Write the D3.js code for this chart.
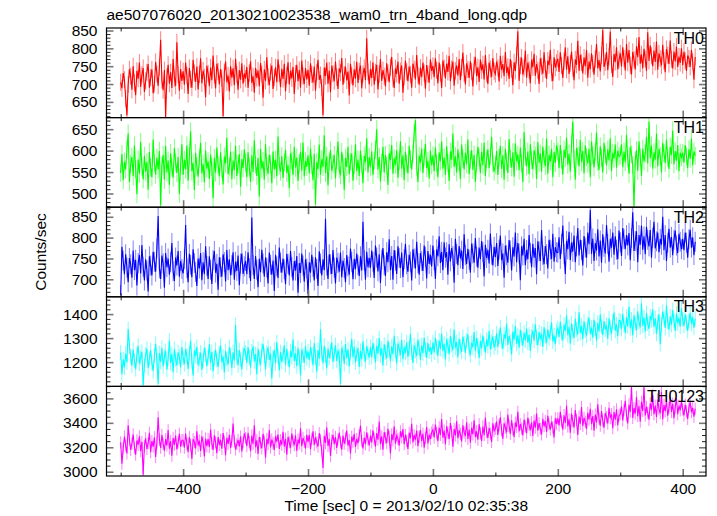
<!DOCTYPE html>
<html><head><meta charset="utf-8">
<script src="https://cdn.jsdelivr.net/npm/d3@7"></script>
<style>body{margin:0;background:#fff}</style>
</head><body>
<svg id="c" width="717" height="516"></svg>
<script>
// ---- data (2-s bins starting at t = -500 s) ----
const binStart = -500, binSize = 2;
const panelNames = ["TH0", "TH1", "TH2", "TH3", "TH0123"];
const panelColors = ["#ff0000", "#00ff00", "#0000ff", "#00ffff", "#ff00ff"];
const errHalf = [24, 21, 24, 31, 50];
const xMajorTicks = [-400, -200, 0, 200, 400];
const xMinorTicks = [-500, -300, -100, 100, 300];
const yDomains = [[606, 857], [468, 677], [658, 873], [1099, 1472], [2965, 3698]];
const yMajorTicks = [[650, 700, 750, 800, 850], [500, 550, 600, 650], [700, 750, 800, 850], [1200, 1300, 1400], [3000, 3200, 3400, 3600]];
const yMinorStep = [10, 10, 10, 20, 50];
const titleText = "ae507076020_20130210023538_wam0_trn_4band_long.qdp";
const xTitle = "Time [sec] 0 = 2013/02/10 02:35:38";
const yTitle = "Counts/sec";

const th0 = [
705,688,731,712,660,612,698,741,722,684,750,703,669,737,715,760,692,726,745,678,709,733,756,690,718,741,674,700,762,728,695,747,824,711,683,739,608,720,754,701,733,689,770,716,695,817,727,681,742,709,
736,698,760,724,672,745,713,690,768,731,706,749,685,727,772,702,738,719,663,751,729,694,746,711,780,725,688,757,735,699,742,716,610,733,763,705,724,679,750,718,744,697,771,726,684,739,712,758,701,730,
715,748,689,731,764,703,722,676,745,717,738,694,759,728,662,741,709,775,720,697,734,752,686,718,747,705,769,730,691,743,714,757,680,725,761,699,737,716,748,672,729,754,708,739,690,766,722,700,745,713,
740,695,758,727,704,749,681,733,768,712,725,690,613,746,722,760,700,738,677,751,729,708,763,719,686,744,732,773,698,726,749,710,735,668,757,724,696,741,715,762,703,736,752,688,728,745,711,828,734,699,
742,717,761,698,733,754,685,728,770,709,739,722,693,758,731,705,747,776,715,689,744,728,763,701,736,752,676,721,766,734,708,749,727,690,757,741,713,781,725,698,746,719,760,731,687,753,728,704,769,737,
751,719,772,738,702,760,731,689,766,745,716,757,734,779,708,742,763,695,737,752,724,770,711,746,788,730,699,758,741,717,764,735,693,753,776,722,747,706,769,738,755,713,781,729,700,760,742,720,773,736,
728,763,745,707,779,740,756,722,790,731,748,715,770,742,697,761,737,781,848,709,752,774,726,745,794,718,760,739,702,768,747,785,723,756,738,700,772,750,729,789,741,714,766,753,796,732,708,775,746,760,
771,734,789,752,717,764,803,740,778,728,758,791,745,711,769,754,821,737,782,760,730,774,750,795,718,763,742,786,757,726,770,812,744,767,735,779,852,748,761,790,739,776,847,755,720,784,762,803,741,768,
786,749,803,771,738,812,760,795,752,727,790,768,741,806,775,832,757,783,744,799,770,737,845,765,808,779,750,794,762,819,740,786,771,752,810,765,733,798,781,756,822,769,744,791,763,805,748,777,759,800,
753,790,765,737,780,771,748,795,762,712,776];
const th1 = [
548,592,531,574,556,603,640,527,569,585,540,612,557,498,579,546,620,563,533,588,551,574,509,597,560,538,626,571,544,583,556,599,472,565,590,532,611,549,577,520,594,561,537,606,572,548,585,499,567,615,
543,579,556,612,530,587,645,552,571,508,595,563,539,581,618,547,569,526,600,558,575,534,591,562,489,583,549,607,566,540,596,557,521,586,570,630,545,562,598,533,577,554,611,541,568,592,516,580,559,603,
572,538,596,561,527,589,550,624,567,541,583,493,604,558,575,532,615,562,546,590,569,524,598,556,579,540,633,565,551,587,536,573,602,548,566,512,594,577,543,609,560,584,529,571,597,553,619,540,576,562,
589,547,605,566,531,592,474,573,557,614,544,580,562,636,548,587,519,575,601,553,568,590,535,578,621,556,542,597,571,508,583,562,609,545,574,593,530,566,615,552,579,541,600,568,524,588,573,629,549,585,
561,598,543,577,602,650,556,585,528,571,609,549,590,565,520,594,578,613,546,582,567,601,537,575,622,558,589,531,597,570,547,611,580,556,593,641,671,563,527,588,572,605,548,584,616,559,576,535,600,566,
589,552,607,570,538,596,575,621,558,584,543,610,571,529,598,579,640,562,587,549,603,574,533,614,581,556,595,568,626,545,578,601,555,590,527,572,609,584,548,597,566,618,541,580,603,559,588,632,570,551,
566,599,543,583,611,557,589,532,604,574,548,627,581,561,596,539,617,575,591,554,607,570,527,643,586,563,598,545,615,578,556,601,588,534,620,572,593,551,609,580,564,628,546,590,575,604,538,597,571,612,
598,559,613,579,544,602,583,630,567,593,551,616,668,580,532,606,588,563,625,573,599,547,612,585,570,604,538,621,589,561,596,642,574,555,610,583,549,618,591,566,603,577,629,552,595,581,614,560,600,586,
589,615,561,598,573,637,582,546,609,591,566,470,577,601,553,622,585,541,604,575,593,632,570,668,582,612,558,596,579,640,563,604,587,549,618,594,571,626,583,557,609,590,647,568,599,576,613,552,595,584,
595,572,613,587,559,603,581,628,566,598,588];
const th2 = [
662,778,745,712,760,728,693,751,736,704,769,722,747,685,739,758,714,782,730,697,748,721,671,755,733,709,766,742,718,774,852,726,701,757,738,680,763,729,750,711,741,787,719,696,752,733,768,706,744,725,
714,748,830,727,693,761,735,705,772,739,718,684,750,726,763,698,741,712,779,732,701,755,723,689,746,768,716,737,675,753,729,706,760,741,695,770,722,748,710,734,765,699,742,720,757,686,738,762,713,731,
744,712,765,727,696,848,734,701,756,723,681,749,717,771,738,706,752,728,690,764,735,711,745,672,759,731,703,776,740,716,750,724,688,761,737,709,768,729,697,744,721,756,668,739,715,762,733,694,748,726,
665,741,716,759,730,697,753,725,684,767,738,709,748,722,845,733,701,760,736,713,770,728,690,752,739,718,764,705,745,727,693,758,731,711,774,742,700,749,724,762,734,708,755,721,838,745,699,766,729,751,
728,769,742,703,781,752,719,760,691,747,775,734,708,765,741,796,722,756,699,770,745,713,779,751,727,764,705,748,785,736,718,759,742,697,772,750,726,790,739,711,763,744,720,781,754,702,768,737,759,731,
781,746,701,772,755,803,739,766,722,789,752,765,711,784,743,775,756,692,797,761,734,780,750,769,725,808,758,737,773,747,716,786,762,740,799,754,728,776,748,792,765,707,783,751,771,738,810,759,733,778,
753,787,732,771,805,746,762,704,781,758,740,794,769,721,777,755,812,741,787,762,698,779,757,797,734,770,748,806,763,729,785,752,775,712,791,767,744,818,758,736,780,760,726,795,771,749,809,742,777,765,
764,801,749,785,829,760,713,792,772,814,746,788,766,805,741,779,823,757,795,770,733,804,776,752,812,784,866,761,798,744,787,769,820,755,793,740,808,778,762,830,785,742,797,776,812,759,803,771,748,817,
789,756,823,797,772,806,781,811,746,799,861,768,792,815,741,806,783,829,771,803,760,826,795,779,818,752,800,838,774,791,812,765,797,783,850,770,806,744,788,821,776,802,758,795,817,781,763,809,790,772,
797,770,812,788,752,796,819,776,801,758,790];
const th3 = [
1240,1150,1212,1178,1236,1199,1338,1265,1224,1185,1252,1207,1171,1230,1268,1194,1219,1243,1105,1188,1232,1256,1175,1214,1249,1197,1163,1227,1276,1208,1110,1238,1201,1260,1182,1223,1247,1169,1215,1290,1196,1234,1158,1254,1211,1186,1241,1222,1179,1263,
1218,1191,1254,1226,1172,1237,1290,1203,1145,1248,1226,1264,1187,1212,1240,1168,1207,1259,1231,1183,1220,1274,1196,1243,1162,1215,1252,1209,1180,1238,1269,1200,1224,1157,1246,1213,1190,1262,1229,1175,1241,1206,1355,1221,1186,1250,1212,1170,1234,1258,
1240,1197,1263,1221,1178,1244,1265,1203,1233,1150,1256,1214,1189,1248,1275,1227,1171,1238,1262,1209,1236,1132,1218,1251,1195,1283,1224,1166,1242,1202,1229,1270,1188,1255,1213,1179,1246,1221,1294,1205,1237,1183,1260,1219,1145,1252,1228,1197,1266,1216,
1245,1208,1262,1231,1187,1279,1223,1160,1250,1214,1338,1236,1196,1268,1229,1175,1257,1218,1244,1283,1201,1233,1271,1205,1249,1226,1110,1260,1238,1192,1275,1217,1253,1182,1242,1296,1221,1264,1199,1235,1258,1180,1247,1211,1287,1230,1203,1266,1241,1219,
1263,1221,1280,1246,1199,1268,1235,1300,1228,1257,1186,1274,1241,1216,1289,1250,1205,1266,1233,1310,1247,1194,1277,1255,1230,1292,1212,1262,1239,1283,1221,1256,1318,1240,1197,1271,1248,1225,1294,1259,1209,1270,1236,1301,1252,1218,1279,1244,1262,1231,
1282,1240,1301,1263,1226,1290,1255,1318,1247,1276,1212,1295,1268,1233,1309,1271,1250,1336,1259,1284,1221,1297,1264,1243,1305,1278,1238,1290,1316,1253,1229,1281,1262,1325,1246,1300,1270,1217,1288,1258,1311,1275,1239,1294,1266,1330,1252,1285,1307,1261,
1278,1320,1262,1305,1344,1287,1255,1316,1298,1361,1272,1309,1284,1232,1327,1293,1350,1276,1312,1260,1335,1301,1269,1323,1290,1340,1281,1314,1247,1306,1331,1289,1357,1302,1270,1325,1296,1318,1263,1345,1308,1280,1337,1299,1322,1366,1286,1311,1275,1330,
1342,1305,1368,1320,1290,1356,1330,1395,1311,1347,1278,1362,1326,1301,1380,1337,1315,1408,1322,1351,1296,1370,1333,1310,1359,1385,1318,1344,1302,1376,1339,1290,1364,1327,1398,1348,1312,1371,1335,1355,1299,1382,1343,1320,1367,1406,1331,1358,1308,1374,
1372,1338,1401,1355,1322,1388,1349,1430,1340,1378,1311,1395,1361,1333,1412,1368,1345,1445,1352,1386,1327,1404,1360,1339,1392,1375,1420,1346,1383,1318,1366,1399,1275,1357,1410,1381,1342,1436,1369,1335,1391,1356,1417,1373,1330,1402,1362,1384,1348,1425,
1378,1351,1398,1366,1330,1372,1405,1359,1387,1343,1380];
const th0123 = [
3240,3065,3192,3288,3215,3150,3380,3262,3178,3230,3305,3198,3140,3256,3221,3290,3168,3245,2975,3210,3274,3186,3233,3318,3160,3250,3205,3282,3120,3238,3445,3262,3195,3301,3228,3172,3267,3214,3340,3189,3251,3130,3276,3220,3296,3183,3242,3310,3204,3258,
3258,3196,3312,3230,3160,3284,3221,3105,3266,3242,3190,3330,3214,3255,3170,3290,3237,3125,3272,3209,3268,3201,3345,3232,3178,3297,3240,3152,3283,3219,3261,3188,3316,3245,3136,3276,3228,3302,3195,3254,3395,3248,3183,3226,3260,3207,3289,3166,3239,3314,
3275,3210,3318,3242,3168,3296,3228,3380,3201,3257,3145,3283,3236,3192,3310,3249,3115,3268,3225,3340,3198,3262,3233,3179,3290,3246,3305,3187,3258,3221,3327,3204,3270,3139,3285,3240,3196,3312,3253,3218,3298,3170,3264,3231,3356,3209,3276,3243,3190,3302,
3244,3302,3185,3267,3330,3219,3281,3240,3206,3315,3258,3172,3030,3293,3235,3361,3210,3270,3128,3255,3301,3226,3284,3195,3262,3318,3241,3180,3296,3229,3273,3337,3214,3259,3150,3287,3246,3310,3202,3268,3233,3299,3378,3251,3190,3280,3225,3322,3264,3215,
3296,3240,3338,3270,3205,3315,3262,3410,3228,3289,3180,3323,3276,3235,3351,3284,3150,3307,3258,3372,3230,3295,3268,3214,3330,3281,3349,3226,3302,3253,3187,3318,3274,3392,3240,3299,3262,3336,3208,3285,3343,3250,3311,3196,3278,3365,3232,3304,3267,3321,
3342,3280,3385,3315,3250,3362,3301,3430,3278,3336,3225,3371,3320,3266,3398,3327,3205,3350,3296,3412,3275,3339,3310,3248,3380,3322,3293,3405,3268,3345,3237,3360,3306,3421,3284,3331,3262,3389,3315,3252,3370,3299,3441,3325,3276,3358,3312,3243,3396,3334,
3352,3410,3300,3381,3445,3338,3270,3396,3360,3322,3468,3375,3310,3420,3346,3285,3402,3367,3490,3330,3389,3352,3298,3426,3370,3315,3442,3383,3340,3405,3292,3418,3361,3476,3335,3397,3350,3305,3432,3372,3414,3326,3458,3388,3345,3409,3363,3280,3437,3391,
3436,3378,3490,3410,3345,3462,3398,3540,3370,3428,3320,3475,3414,3362,3505,3420,3300,3452,3392,3530,3375,3440,3408,3350,3482,3427,3515,3389,3456,3335,3468,3402,3551,3433,3376,3497,3418,3360,3480,3445,3395,3522,3438,3470,3356,3489,3425,3510,3381,3460,
3470,3535,3420,3505,3580,3462,3395,3550,3488,3700,3440,3520,3476,3610,3455,3538,3410,3572,3498,3690,3460,3530,3482,3425,3560,3505,3628,3470,3541,3447,3590,3512,3478,3655,3430,3545,3496,3582,3458,3520,3615,3489,3556,3437,3528,3600,3471,3540,3502,3575,
3510,3460,3548,3495,3432,3530,3568,3487,3522,3450,3515];
const seriesList = [th0, th1, th2, th3, th0123];

// ---- layout ----
const FONT = '"Liberation Sans", Arial, Helvetica, sans-serif';
const x0 = 106.5, x1 = 706;
const panelTop = 28, panelH = 89.6;
const svg = d3.select("#c");
const xScale = d3.scaleLinear().domain([-522.7, 437.3]).range([x0, x1]);

function styleAxis(g, color, width) {
  g.select(".domain").remove();
  g.selectAll(".tick line").attr("stroke", color).attr("stroke-width", width);
  g.attr("font-family", FONT).attr("font-size", 15.5);
  g.selectAll(".tick text").attr("fill", "#000");
}

seriesList.forEach((vals, p) => {
  const top = panelTop + p * panelH, bot = top + panelH;
  const y = d3.scaleLinear().domain(yDomains[p]).range([bot, top]);
  const color = panelColors[p];
  const err = errHalf[p];
  const pts = vals.map((v, i) => ({t: binStart + i * binSize, v}));

  svg.append("clipPath").attr("id", "clip" + p)
    .append("rect").attr("x", x0).attr("y", top).attr("width", x1 - x0).attr("height", panelH);
  const g = svg.append("g").attr("clip-path", `url(#clip${p})`);
  g.selectAll("line.err").data(pts).join("line").attr("class", "err")
    .attr("x1", d => xScale(d.t)).attr("x2", d => xScale(d.t))
    .attr("y1", d => y(d.v - err)).attr("y2", d => y(d.v + err))
    .attr("stroke", color).attr("stroke-opacity", 0.5).attr("stroke-width", 1);
  g.append("path").datum(pts)
    .attr("d", d3.line().x(d => xScale(d.t)).y(d => y(d.v)))
    .attr("fill", "none").attr("stroke", color).attr("stroke-width", 1.1);

  // y ticks
  const [d0, d1] = yDomains[p], st = yMinorStep[p];
  const minors = d3.range(Math.ceil(d0 / st) * st, d1, st).filter(v => !yMajorTicks[p].includes(v));
  svg.append("g").attr("transform", `translate(${x0},0)`)
    .call(d3.axisRight(y).tickValues(minors).tickSize(4).tickFormat("")).call(g2 => styleAxis(g2, "#222", 1));
  svg.append("g").attr("transform", `translate(${x0},0)`)
    .call(d3.axisRight(y).tickValues(yMajorTicks[p]).tickSize(7).tickFormat("")).call(g2 => styleAxis(g2, "#777", 1.6));
  svg.append("g").attr("transform", `translate(${x1},0)`)
    .call(d3.axisLeft(y).tickValues(minors).tickSize(4).tickFormat("")).call(g2 => styleAxis(g2, "#222", 1));
  svg.append("g").attr("transform", `translate(${x1},0)`)
    .call(d3.axisLeft(y).tickValues(yMajorTicks[p]).tickSize(7).tickFormat("")).call(g2 => styleAxis(g2, "#777", 1.6));
  svg.append("g").attr("transform", `translate(${x0},0)`)
    .call(d3.axisLeft(y).tickValues(yMajorTicks[p]).tickSize(0).tickPadding(9).tickFormat(d3.format("d")))
    .call(g2 => styleAxis(g2, "#000", 0));

  // x ticks (inward at top and bottom of panel)
  svg.append("g").attr("transform", `translate(0,${top})`)
    .call(d3.axisBottom(xScale).tickValues(xMinorTicks).tickSize(3.5).tickFormat("")).call(g2 => styleAxis(g2, "#222", 1));
  svg.append("g").attr("transform", `translate(0,${top})`)
    .call(d3.axisBottom(xScale).tickValues(xMajorTicks).tickSize(7).tickFormat("")).call(g2 => styleAxis(g2, "#777", 1.6));
  svg.append("g").attr("transform", `translate(0,${bot})`)
    .call(d3.axisTop(xScale).tickValues(xMinorTicks).tickSize(3.5).tickFormat("")).call(g2 => styleAxis(g2, "#222", 1));
  svg.append("g").attr("transform", `translate(0,${bot})`)
    .call(d3.axisTop(xScale).tickValues(xMajorTicks).tickSize(7).tickFormat("")).call(g2 => styleAxis(g2, "#777", 1.6));

  // frame
  svg.append("rect").attr("x", x0).attr("y", top).attr("width", x1 - x0).attr("height", panelH)
    .attr("fill", "none").attr("stroke", "#000").attr("stroke-width", 1.2);

  // panel label
  svg.append("text").attr("x", 704).attr("y", top + 15.5).attr("text-anchor", "end")
    .attr("font-family", FONT).attr("font-size", 16).attr("fill", "#000").text(panelNames[p]);
});

// x tick labels
const bottom = panelTop + 5 * panelH;
svg.append("g").attr("transform", `translate(0,${bottom})`)
  .call(d3.axisBottom(xScale).tickValues(xMajorTicks).tickSize(0).tickPadding(6.5))
  .call(g2 => styleAxis(g2, "#000", 0));

// titles
svg.append("text").attr("x", 106.5).attr("y", 20).attr("font-family", FONT).attr("font-size", 15.5)
  .attr("fill", "#000").text(titleText);
svg.append("text").attr("x", (x0 + x1) / 2).attr("y", 511).attr("text-anchor", "middle")
  .attr("font-family", FONT).attr("font-size", 15.5).attr("fill", "#000").text(xTitle);
svg.append("text").attr("transform", `translate(46,${(panelTop + bottom) / 2}) rotate(-90)`)
  .attr("text-anchor", "middle").attr("font-family", FONT).attr("font-size", 15.5)
  .attr("fill", "#000").text(yTitle);
</script>
</body></html>
